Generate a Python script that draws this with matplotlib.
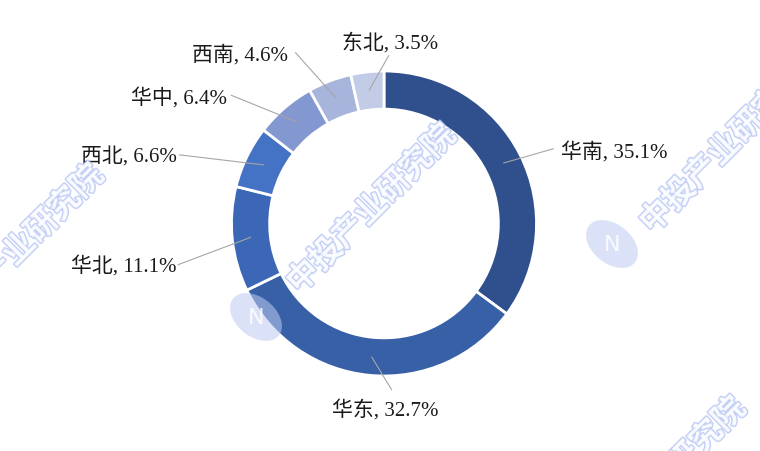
import numpy as np
import matplotlib as mpl
import matplotlib.pyplot as plt
from matplotlib.patches import Ellipse
import matplotlib.patheffects as pe

mpl.rcParams["font.family"] = ["Liberation Serif", "Noto Sans CJK SC", "DejaVu Sans"]

regions = ["华南", "华东", "华北", "西北", "华中", "西南", "东北"]
shares = [35.1, 32.7, 11.1, 6.6, 6.4, 4.6, 3.5]
colors = ["#2F508C", "#3760A6", "#3B67B6", "#4472C4", "#8397D1", "#A7B4DB", "#C3CCE7"]

# label anchor (data units, radius 1 = outer ring) and alignment
lab_pos = [(1.16, 0.47, "left"), (0.01, -1.22, "center"), (-1.36, -0.28, "right"),
           (-1.36, 0.44, "right"), (-1.03, 0.82, "right"), (-0.63, 1.11, "right"),
           (0.04, 1.19, "center")]
line_end = [(1.11, 0.49), (0.05, -1.09), (-1.35, -0.27), (-1.34, 0.45),
            (-1.00, 0.84), (-0.58, 1.12), (0.03, 1.10)]

W, H = 760, 452
fig = plt.figure(figsize=(W / 100, H / 100), dpi=100)
ax = fig.add_axes([0, 0, 1, 1])
S = 152.5; CX = 384; CY = 224.5

wedges, _ = ax.pie(shares, colors=colors, startangle=90, counterclock=False,
                   radius=1.0, wedgeprops=dict(width=0.25, edgecolor="white", linewidth=2))
ax.set_xlim(-CX / S, (W - CX) / S); ax.set_ylim(-(H - CY) / S, CY / S)
ax.axis("off")

cum = np.cumsum([0] + shares)
for i, (r, v) in enumerate(zip(regions, shares)):
    mid = (cum[i] + v / 2) / 100 * 2 * np.pi
    sx, sy = 0.88 * np.sin(mid), 0.88 * np.cos(mid)
    ex, ey = line_end[i]
    ax.plot([sx, ex], [sy, ey], color="#A6A6A6", lw=0.8, zorder=5)
    x, y, ha = lab_pos[i]
    ax.text(x, y, f"{r}, {v}%", ha=ha, va="center", fontsize=15, color="#1A1A1A", zorder=6)

# watermark
wm_fam = ["Noto Sans CJK SC"]
for (px, py) in [(372, 210), (725, 150), (20, 250), (662, 483)]:
    fig.text(px / W, 1 - py / H, "中投产业研究院", rotation=45, ha="center", va="center",
             fontsize=23, weight="bold", family=wm_fam, color="white", alpha=0.85,
             path_effects=[pe.withStroke(linewidth=2.0, foreground="#B9C7F4")], zorder=10)
for (px, py) in [(256, 318), (612, 245)]:
    e = Ellipse((px / W, 1 - py / H), 46 / W, 50 / H, angle=20, transform=fig.transFigure,
                facecolor="#BFCBF3", alpha=0.55, edgecolor="none", zorder=9)
    fig.add_artist(e)
    fig.text(px / W, 1 - py / H, "N", ha="center", va="center", fontsize=16, color="white",
             alpha=0.85, family=["DejaVu Sans"], zorder=10)

fig.savefig("out.png", dpi=100, facecolor="white")
